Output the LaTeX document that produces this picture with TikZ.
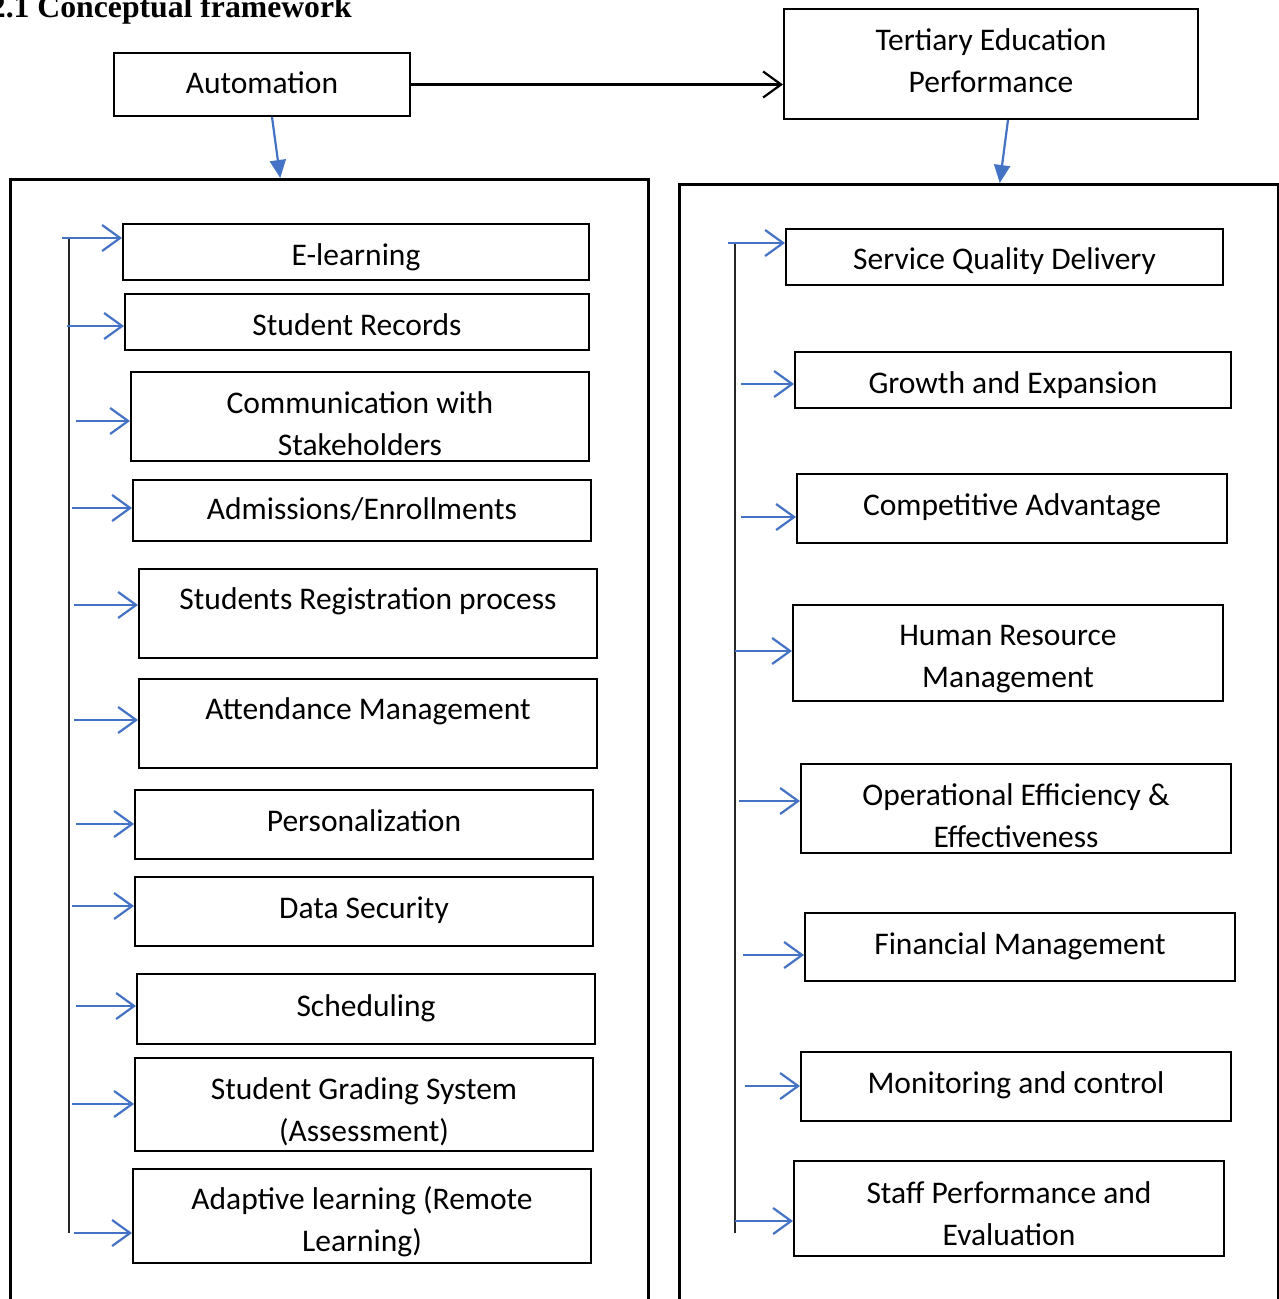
\documentclass[tikz,border=0pt]{standalone}
\usepackage{fontspec}
\setmainfont{Carlito}
\newfontfamily\headfont{Liberation Serif}
\usetikzlibrary{arrows.meta}
\definecolor{linkblue}{RGB}{68,114,196}

\tikzset{
    item/.style={draw, line width=2pt, inner sep=0pt, anchor=north west, align=flush center,
        font=\fontsize{31.5}{42}\selectfont},
    panel/.style={draw, line width=2.5pt, inner sep=0pt, anchor=north west},
    feed/.style={linkblue, line width=2.2pt, -{Straight Barb[length=18pt,width=26pt]}},
    link/.style={line width=2.2pt, -{Straight Barb[length=18pt,width=26pt]}},
    drop/.style={linkblue, line width=2.2pt, -{Triangle[length=18pt,width=16pt]}},
    spine/.style={line width=1.3pt, black!85}
}

\begin{document}
\begin{tikzpicture}[x=1pt,y=-1pt]
        \useasboundingbox (0,0) rectangle (1278,1299);

        \node[anchor=base east, inner sep=0pt, font=\headfont\bfseries\fontsize{31.7}{38}\selectfont] (title) at (352,17) {2.1 Conceptual framework};

        \node[item, text width=296pt, text height=40pt, text depth=23pt] (auto) at (113,52) {Automation};
        \node[item, text width=414pt, text height=41pt, text depth=69pt] (tert) at (783,8) {Tertiary Education\\Performance};

        \node[panel, minimum width=638pt, minimum height=1140pt] (lpanel) at (9,178) {};
        \node[panel, minimum width=599pt, minimum height=1140pt] (rpanel) at (678,183) {};

        \node[item, text width=466pt, text height=41pt, text depth=15pt] (elearn) at (122,223) {E-learning};
        \node[item, text width=464pt, text height=41pt, text depth=15pt] (records) at (124,293) {Student Records};
        \node[item, text width=458pt, text height=41pt, text depth=48pt] (comms) at (130,371) {Communication with\\Stakeholders};
        \node[item, text width=458pt, text height=39pt, text depth=22pt] (admit) at (132,479) {Admissions/Enrollments};
        \node[item, text width=458pt, text height=40pt, text depth=49pt] (regist) at (138,568) {Students Registration process};
        \node[item, text width=458pt, text height=40pt, text depth=49pt] (attend) at (138,678) {Attendance Management};
        \node[item, text width=458pt, text height=41pt, text depth=28pt] (person) at (134,789) {Personalization};
        \node[item, text width=458pt, text height=41pt, text depth=28pt] (secur) at (134,876) {Data Security};
        \node[item, text width=458pt, text height=42pt, text depth=28pt] (sched) at (136,973) {Scheduling};
        \node[item, text width=458pt, text height=41pt, text depth=52pt] (grade) at (134,1057) {Student Grading System\\(Assessment)};
        \node[item, text width=458pt, text height=40pt, text depth=54pt] (adapt) at (132,1168) {Adaptive learning (Remote\\Learning)};

        \node[item, text width=437pt, text height=40pt, text depth=16pt] (service) at (785,228) {Service Quality Delivery};
        \node[item, text width=436pt, text height=41pt, text depth=15pt] (growth) at (794,351) {Growth and Expansion};
        \node[item, text width=430pt, text height=41pt, text depth=28pt] (compet) at (796,473) {Competitive Advantage};
        \node[item, text width=430pt, text height=40pt, text depth=56pt] (human) at (792,604) {Human Resource\\Management};
        \node[item, text width=430pt, text height=41pt, text depth=48pt] (operat) at (800,763) {Operational Efficiency \&\\Effectiveness};
        \node[item, text width=430pt, text height=41pt, text depth=27pt] (finance) at (804,912) {Financial Management};
        \node[item, text width=430pt, text height=41pt, text depth=28pt] (monitor) at (800,1051) {Monitoring and control};
        \node[item, text width=430pt, text height=42pt, text depth=53pt] (staff) at (793,1160) {Staff Performance and\\Evaluation};

        \draw[link] (auto.east) -- (auto.east -| tert.west);
        \draw[drop] ([xshift=10pt]auto.south) -- ([xshift=-49pt]lpanel.north);
        \draw[drop] ([xshift=17pt]tert.south) -- ([xshift=21pt]rpanel.north);

        \coordinate (ltop) at (69,238);
        \coordinate (lbot) at (69,1233);
        \draw[spine] (ltop) -- (lbot);
        \coordinate (l1) at (62,238);
        \coordinate (l2) at (67,326);
        \coordinate (l3) at (76,421);
        \coordinate (l4) at (72,508);
        \coordinate (l5) at (74,605);
        \coordinate (l6) at (74,720);
        \coordinate (l7) at (76,824);
        \coordinate (l8) at (72,906);
        \coordinate (l9) at (76,1006);
        \coordinate (l10) at (72,1104);
        \coordinate (l11) at (74,1233);
        \draw[feed] (l1) -- (l1 -| elearn.west);
        \draw[feed] (l2) -- (l2 -| records.west);
        \draw[feed] (l3) -- (l3 -| comms.west);
        \draw[feed] (l4) -- (l4 -| admit.west);
        \draw[feed] (l5) -- (l5 -| regist.west);
        \draw[feed] (l6) -- (l6 -| attend.west);
        \draw[feed] (l7) -- (l7 -| person.west);
        \draw[feed] (l8) -- (l8 -| secur.west);
        \draw[feed] (l9) -- (l9 -| sched.west);
        \draw[feed] (l10) -- (l10 -| grade.west);
        \draw[feed] (l11) -- (l11 -| adapt.west);

        \coordinate (rtop) at (735,243);
        \coordinate (rbot) at (735,1233);
        \draw[spine] (rtop) -- (rbot);
        \coordinate (r1) at (728,243);
        \coordinate (r2) at (741,384);
        \coordinate (r3) at (741,517);
        \coordinate (r4) at (735,651);
        \coordinate (r5) at (739,801);
        \coordinate (r6) at (743,955);
        \coordinate (r7) at (745,1086);
        \coordinate (r8) at (735,1221);
        \draw[feed] (r1) -- (r1 -| service.west);
        \draw[feed] (r2) -- (r2 -| growth.west);
        \draw[feed] (r3) -- (r3 -| compet.west);
        \draw[feed] (r4) -- (r4 -| human.west);
        \draw[feed] (r5) -- (r5 -| operat.west);
        \draw[feed] (r6) -- (r6 -| finance.west);
        \draw[feed] (r7) -- (r7 -| monitor.west);
        \draw[feed] (r8) -- (r8 -| staff.west);
    \end{tikzpicture}
\end{document}
